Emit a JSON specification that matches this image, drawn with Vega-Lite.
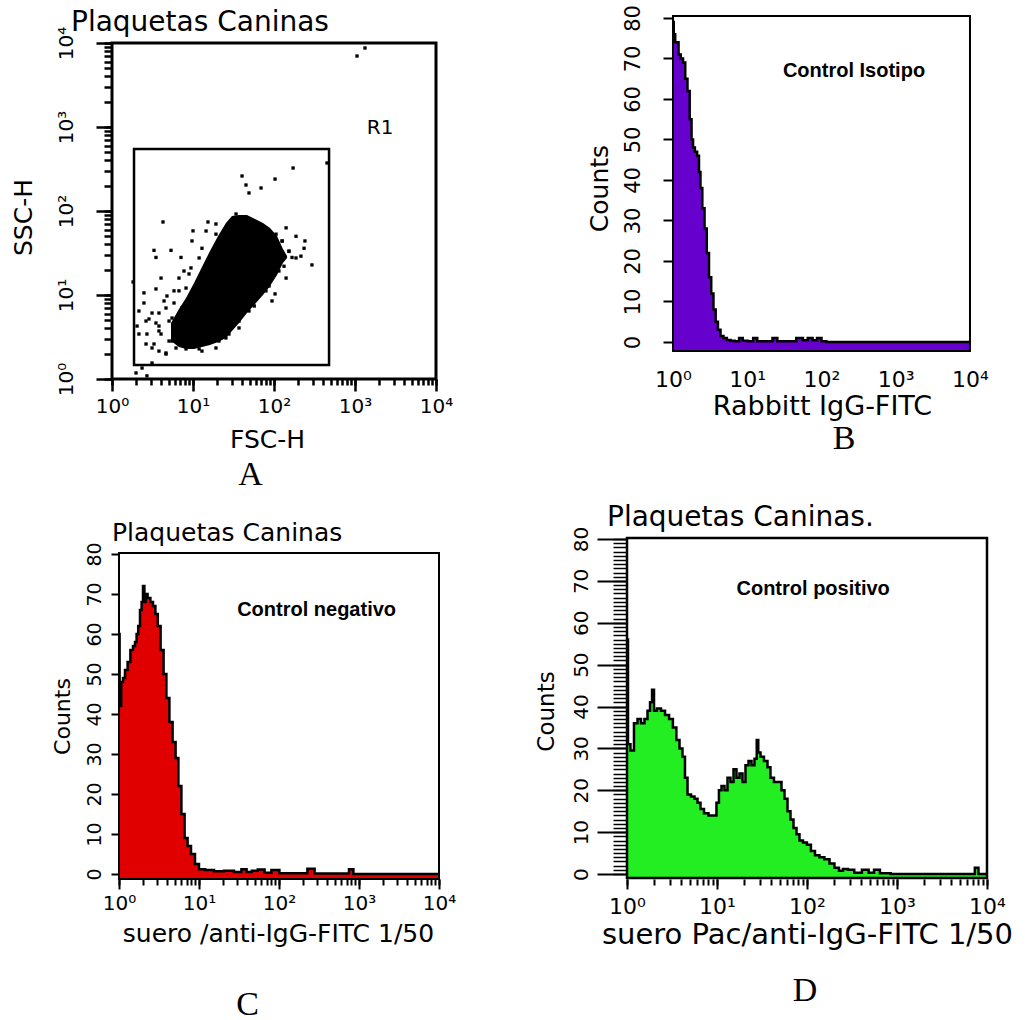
{
  "$schema": "https://vega.github.io/schema/vega-lite/v6.json",
  "background": "white",
  "padding": {"left": 11, "top": 4, "right": 0, "bottom": 0},
  "columns": 2,
  "align": "each",
  "bounds": "flush",
  "spacing": {"row": 159, "column": 188},
  "config": {
    "view": {"stroke": null},
    "axis": {"labelColor": "black", "titleColor": "black", "tickColor": "black", "domain": false, "grid": false, "labelFont": "DejaVu Sans", "titleFont": "DejaVu Sans", "titleFontWeight": "normal", "labelFlush": false, "labelOverlap": false, "tickWidth": 2},
    "title": {"font": "Liberation Serif", "fontSize": 34, "fontWeight": "normal", "color": "black"}
  },
  "datasets": {
    "frame": [{"part": "plot frame"}],
    "scatter_core": [
      {"fsc": 5.35, "ssc_hi": 4.64, "ssc_lo": 2.83},
      {"fsc": 6.71, "ssc_hi": 6.81, "ssc_lo": 2.40},
      {"fsc": 8.20, "ssc_hi": 9.21, "ssc_lo": 2.28},
      {"fsc": 10.3, "ssc_hi": 13.9, "ssc_lo": 2.28},
      {"fsc": 12.9, "ssc_hi": 21.5, "ssc_lo": 2.40},
      {"fsc": 16.2, "ssc_hi": 33.4, "ssc_lo": 2.54},
      {"fsc": 20.4, "ssc_hi": 50.4, "ssc_lo": 2.76},
      {"fsc": 25.5, "ssc_hi": 72.0, "ssc_lo": 3.08},
      {"fsc": 30.3, "ssc_hi": 87.1, "ssc_lo": 3.73},
      {"fsc": 37.0, "ssc_hi": 89.6, "ssc_lo": 4.64},
      {"fsc": 46.4, "ssc_hi": 89.6, "ssc_lo": 6.10},
      {"fsc": 58.3, "ssc_hi": 80.4, "ssc_lo": 7.81},
      {"fsc": 73.1, "ssc_hi": 72.0, "ssc_lo": 10.0},
      {"fsc": 89.3, "ssc_hi": 62.8, "ssc_lo": 12.8},
      {"fsc": 109, "ssc_hi": 50.4, "ssc_lo": 17.3},
      {"fsc": 129, "ssc_hi": 35.3, "ssc_lo": 24.0},
      {"fsc": 145, "ssc_hi": 29.1, "ssc_lo": 27.6}
    ],
    "scatter_events": [
      {"fsc": 1328, "ssc": 8720}, {"fsc": 1059, "ssc": 7000}, {"fsc": 451, "ssc": 373}, {"fsc": 172, "ssc": 325},
      {"fsc": 40.3, "ssc": 261}, {"fsc": 103, "ssc": 240}, {"fsc": 45.1, "ssc": 204}, {"fsc": 69.2, "ssc": 188},
      {"fsc": 49.1, "ssc": 164}, {"fsc": 4.26, "ssc": 74}, {"fsc": 15.3, "ssc": 74}, {"fsc": 10.0, "ssc": 58},
      {"fsc": 3.30, "ssc": 34}, {"fsc": 5.35, "ssc": 34}, {"fsc": 3.49, "ssc": 28}, {"fsc": 9.72, "ssc": 44},
      {"fsc": 7.11, "ssc": 28}, {"fsc": 141, "ssc": 63}, {"fsc": 187, "ssc": 50}, {"fsc": 241, "ssc": 44},
      {"fsc": 235, "ssc": 36}, {"fsc": 215, "ssc": 29}, {"fsc": 294, "ssc": 22.8}, {"fsc": 167, "ssc": 28},
      {"fsc": 103, "ssc": 10.3}, {"fsc": 4.03, "ssc": 15.9}, {"fsc": 1.82, "ssc": 14.3}, {"fsc": 3.49, "ssc": 11.8},
      {"fsc": 2.48, "ssc": 10.6}, {"fsc": 2.48, "ssc": 8.03}, {"fsc": 3.12, "ssc": 6.1}, {"fsc": 2.15, "ssc": 6.45},
      {"fsc": 2.63, "ssc": 4.9}, {"fsc": 3.49, "ssc": 4.64}, {"fsc": 2.04, "ssc": 4.27}, {"fsc": 2.15, "ssc": 3.43},
      {"fsc": 2.70, "ssc": 3.43}, {"fsc": 2.63, "ssc": 2.61}, {"fsc": 3.30, "ssc": 2.61}, {"fsc": 3.80, "ssc": 2.15},
      {"fsc": 4.64, "ssc": 2.04}, {"fsc": 1.98, "ssc": 1.18}, {"fsc": 2.35, "ssc": 1.35}, {"fsc": 2.70, "ssc": 1.09},
      {"fsc": 3.12, "ssc": 1.55}, {"fsc": 4.03, "ssc": 3.43}, {"fsc": 5.51, "ssc": 2.83}, {"fsc": 8.20, "ssc": 2.28},
      {"fsc": 11.9, "ssc": 2.28}, {"fsc": 14.9, "ssc": 2.68}, {"fsc": 4.77, "ssc": 9.73}, {"fsc": 5.83, "ssc": 8.03},
      {"fsc": 4.64, "ssc": 7.0}, {"fsc": 8.20, "ssc": 12.1}, {"fsc": 6.71, "ssc": 15.9}, {"fsc": 9.44, "ssc": 21},
      {"fsc": 11.9, "ssc": 27.6}, {"fsc": 12.9, "ssc": 36}, {"fsc": 19.2, "ssc": 53}, {"fsc": 27.8, "ssc": 3.43},
      {"fsc": 22.2, "ssc": 3.73}, {"fsc": 37.0, "ssc": 76}, {"fsc": 53.5, "ssc": 72}, {"fsc": 79.6, "ssc": 58},
      {"fsc": 106, "ssc": 53}, {"fsc": 126, "ssc": 44}, {"fsc": 3.80, "ssc": 6.1}, {"fsc": 5.06, "ssc": 4.9},
      {"fsc": 5.83, "ssc": 3.73}, {"fsc": 7.11, "ssc": 2.83}, {"fsc": 153, "ssc": 33}, {"fsc": 133, "ssc": 22},
      {"fsc": 87, "ssc": 12.8}, {"fsc": 57, "ssc": 7.4}, {"fsc": 37, "ssc": 4.9}, {"fsc": 20.9, "ssc": 2.83},
      {"fsc": 5.83, "ssc": 11.2}, {"fsc": 7.74, "ssc": 19.3}, {"fsc": 4.39, "ssc": 8.49}, {"fsc": 3.80, "ssc": 4.27},
      {"fsc": 2.86, "ssc": 5.18},
      {"fsc": 6.71, "ssc": 11.2}, {"fsc": 8.93, "ssc": 17.8}, {"fsc": 7.31, "ssc": 7.0}, {"fsc": 5.51, "ssc": 5.32},
      {"fsc": 3.80, "ssc": 3.73}, {"fsc": 5.06, "ssc": 2.83}, {"fsc": 3.12, "ssc": 2.34}, {"fsc": 4.64, "ssc": 1.98},
      {"fsc": 6.17, "ssc": 2.34}, {"fsc": 14.5, "ssc": 57.8}, {"fsc": 19.2, "ssc": 70.0}, {"fsc": 34.0, "ssc": 92.1},
      {"fsc": 40.3, "ssc": 82.5}, {"fsc": 65.3, "ssc": 70.0}, {"fsc": 94.5, "ssc": 53.2}, {"fsc": 126, "ssc": 43.9},
      {"fsc": 153, "ssc": 33.4}, {"fsc": 187, "ssc": 27.6}, {"fsc": 115, "ssc": 19.3}, {"fsc": 141, "ssc": 15.9},
      {"fsc": 79.6, "ssc": 11.2}, {"fsc": 94.5, "ssc": 8.49}, {"fsc": 49.1, "ssc": 6.45}, {"fsc": 37.0, "ssc": 4.05},
      {"fsc": 25.5, "ssc": 3.08}, {"fsc": 19.2, "ssc": 2.34}, {"fsc": 12.9, "ssc": 2.15}
    ],
    "gates": [{"gate": "R1", "fsc_min": 1.87, "fsc_max": 478, "ssc_min": 1.47, "ssc_max": 547}],
    "hist_B": [
      {"fitc": 1.0, "count": 79}, {"fitc": 1.047, "count": 76}, {"fitc": 1.096, "count": 74}, {"fitc": 1.148, "count": 74},
      {"fitc": 1.23, "count": 71}, {"fitc": 1.318, "count": 70}, {"fitc": 1.413, "count": 69}, {"fitc": 1.514, "count": 65},
      {"fitc": 1.622, "count": 62}, {"fitc": 1.738, "count": 55}, {"fitc": 1.82, "count": 50}, {"fitc": 1.905, "count": 48},
      {"fitc": 2.042, "count": 47}, {"fitc": 2.188, "count": 46}, {"fitc": 2.291, "count": 42}, {"fitc": 2.399, "count": 38},
      {"fitc": 2.57, "count": 33}, {"fitc": 2.754, "count": 28}, {"fitc": 2.951, "count": 22}, {"fitc": 3.162, "count": 16},
      {"fitc": 3.388, "count": 12}, {"fitc": 3.631, "count": 8}, {"fitc": 3.89, "count": 5}, {"fitc": 4.169, "count": 3},
      {"fitc": 4.571, "count": 1.5}, {"fitc": 5.012, "count": 1}, {"fitc": 5.623, "count": 0.5}, {"fitc": 6.31, "count": 0.3},
      {"fitc": 7.244, "count": 0.2}, {"fitc": 8.318, "count": 1}, {"fitc": 9.12, "count": 0.3}, {"fitc": 11.22, "count": 0.2},
      {"fitc": 12.88, "count": 1}, {"fitc": 14.45, "count": 0.2}, {"fitc": 19.95, "count": 0.2}, {"fitc": 23.99, "count": 1},
      {"fitc": 26.92, "count": 0.2}, {"fitc": 39.81, "count": 0.2}, {"fitc": 52.48, "count": 1}, {"fitc": 60.26, "count": 0.4},
      {"fitc": 70.79, "count": 1}, {"fitc": 81.28, "count": 0.4}, {"fitc": 93.33, "count": 1}, {"fitc": 107.2, "count": 0.2},
      {"fitc": 125.9, "count": 0}, {"fitc": 10000, "count": 0}
    ],
    "hist_C": [
      {"fitc": 1.0, "count": 60}, {"fitc": 1.035, "count": 42}, {"fitc": 1.096, "count": 48}, {"fitc": 1.148, "count": 49},
      {"fitc": 1.23, "count": 51}, {"fitc": 1.334, "count": 53}, {"fitc": 1.445, "count": 56}, {"fitc": 1.549, "count": 57},
      {"fitc": 1.622, "count": 58}, {"fitc": 1.698, "count": 60}, {"fitc": 1.778, "count": 62}, {"fitc": 1.884, "count": 66},
      {"fitc": 1.95, "count": 68}, {"fitc": 2.042, "count": 72}, {"fitc": 2.113, "count": 68}, {"fitc": 2.188, "count": 70},
      {"fitc": 2.371, "count": 69}, {"fitc": 2.57, "count": 68}, {"fitc": 2.754, "count": 67}, {"fitc": 2.951, "count": 65},
      {"fitc": 3.162, "count": 62}, {"fitc": 3.467, "count": 56}, {"fitc": 3.758, "count": 50}, {"fitc": 4.074, "count": 44},
      {"fitc": 4.467, "count": 38}, {"fitc": 4.898, "count": 33}, {"fitc": 5.309, "count": 29}, {"fitc": 5.754, "count": 22},
      {"fitc": 6.31, "count": 15}, {"fitc": 6.918, "count": 9}, {"fitc": 7.499, "count": 7}, {"fitc": 8.414, "count": 5},
      {"fitc": 9.441, "count": 2.5}, {"fitc": 10.59, "count": 1.2}, {"fitc": 13.34, "count": 1}, {"fitc": 17.78, "count": 0.7},
      {"fitc": 23.71, "count": 0.8}, {"fitc": 31.62, "count": 0.5}, {"fitc": 36.31, "count": 1.2}, {"fitc": 42.66, "count": 0.5},
      {"fitc": 48.98, "count": 0.8}, {"fitc": 60.26, "count": 1.1}, {"fitc": 72.44, "count": 0.3}, {"fitc": 89.13, "count": 1},
      {"fitc": 114.8, "count": 0.2}, {"fitc": 199.5, "count": 0.2}, {"fitc": 257.0, "count": 1.3}, {"fitc": 302.0, "count": 0.1},
      {"fitc": 707.9, "count": 0.1}, {"fitc": 794.3, "count": 1.2}, {"fitc": 912.0, "count": 0}, {"fitc": 10000, "count": 0}
    ],
    "hist_D": [
      {"fitc": 1.0, "count": 56}, {"fitc": 1.052, "count": 31}, {"fitc": 1.135, "count": 29.5}, {"fitc": 1.259, "count": 36},
      {"fitc": 1.358, "count": 37}, {"fitc": 1.507, "count": 36}, {"fitc": 1.622, "count": 37}, {"fitc": 1.758, "count": 39},
      {"fitc": 1.849, "count": 41}, {"fitc": 1.95, "count": 44}, {"fitc": 2.042, "count": 39}, {"fitc": 2.265, "count": 39.5},
      {"fitc": 2.512, "count": 39}, {"fitc": 2.786, "count": 38}, {"fitc": 3.09, "count": 37}, {"fitc": 3.388, "count": 35},
      {"fitc": 3.69, "count": 32}, {"fitc": 3.981, "count": 30}, {"fitc": 4.295, "count": 28}, {"fitc": 4.519, "count": 23},
      {"fitc": 4.898, "count": 19}, {"fitc": 5.408, "count": 18.5}, {"fitc": 5.848, "count": 18}, {"fitc": 6.31, "count": 17},
      {"fitc": 6.808, "count": 15.5}, {"fitc": 7.551, "count": 14.5}, {"fitc": 8.57, "count": 14}, {"fitc": 9.506, "count": 14},
      {"fitc": 10.23, "count": 17}, {"fitc": 10.79, "count": 20}, {"fitc": 11.67, "count": 21}, {"fitc": 12.59, "count": 20},
      {"fitc": 13.58, "count": 23}, {"fitc": 14.69, "count": 22}, {"fitc": 15.85, "count": 25}, {"fitc": 17.1, "count": 23},
      {"fitc": 18.49, "count": 24}, {"fitc": 19.95, "count": 22}, {"fitc": 21.53, "count": 26}, {"fitc": 23.28, "count": 27},
      {"fitc": 25.12, "count": 26}, {"fitc": 27.1, "count": 27.5}, {"fitc": 28.18, "count": 32}, {"fitc": 29.31, "count": 29},
      {"fitc": 31.62, "count": 28}, {"fitc": 34.99, "count": 27}, {"fitc": 37.84, "count": 25.5}, {"fitc": 40.74, "count": 23},
      {"fitc": 45.29, "count": 22}, {"fitc": 50.12, "count": 22}, {"fitc": 54.08, "count": 20}, {"fitc": 58.48, "count": 18},
      {"fitc": 63.1, "count": 15}, {"fitc": 68.08, "count": 13}, {"fitc": 73.62, "count": 11}, {"fitc": 79.43, "count": 9.5},
      {"fitc": 85.7, "count": 8}, {"fitc": 95.06, "count": 7.5}, {"fitc": 104.7, "count": 7}, {"fitc": 116.7, "count": 5.5},
      {"fitc": 128.8, "count": 4.5}, {"fitc": 146.9, "count": 4}, {"fitc": 166.0, "count": 3.5}, {"fitc": 190.5, "count": 2.5},
      {"fitc": 213.8, "count": 1.5}, {"fitc": 239.9, "count": 0.8}, {"fitc": 263.0, "count": 1.2}, {"fitc": 309.0, "count": 1},
      {"fitc": 363.1, "count": 0.3}, {"fitc": 457.1, "count": 1}, {"fitc": 512.9, "count": 0.3}, {"fitc": 602.6, "count": 1},
      {"fitc": 691.8, "count": 0.2}, {"fitc": 1047, "count": 0}, {"fitc": 7079, "count": 0}, {"fitc": 7586, "count": 1.5},
      {"fitc": 8511, "count": 0}, {"fitc": 10000, "count": 0}
    ]
  },
  "concat": [
    {
      "width": 327, "height": 363,
      "title": {"text": "A", "orient": "bottom", "anchor": "middle", "frame": "group", "dx": -25, "offset": 6},
      "resolve": {"axis": {"x": "independent", "y": "independent"}},
      "layer": [
        {
          "data": {"name": "scatter_core"},
          "mark": {"type": "area", "color": "black", "interpolate": "linear", "opacity": 1},
          "encoding": {
            "x": {"field": "fsc", "type": "quantitative", "scale": {"type": "log", "domain": [1, 10890], "nice": false},
              "axis": {"orient": "bottom", "title": "FSC-H", "values": [1,10,100,1000,10000], "labelOverlap": false,
                "labelExpr": "datum.value == 1 ? '10⁰' : datum.value == 10 ? '10¹' : datum.value == 100 ? '10²' : datum.value == 1000 ? '10³' : '10⁴'",
                "labelFontSize": 20, "labelAlign": "center", "labelBaseline": "middle", "labelPadding": 15, "tickSize": 12,
                "tickWidth": 2.5, "titleFontSize": 25, "titleX": 155, "titleY": 60, "titleBaseline": "middle"}},
            "y": {"field": "ssc_hi", "type": "quantitative", "scale": {"type": "log", "domain": [1, 20960], "nice": false},
              "axis": {"orient": "left", "title": "SSC-H", "values": [1,10,100,1000,10000], "labelOverlap": false,
                "labelExpr": "datum.value == 1 ? '10⁰' : datum.value == 10 ? '10¹' : datum.value == 100 ? '10²' : datum.value == 1000 ? '10³' : '10⁴'",
                "labelFontSize": 20, "labelAngle": 270, "labelAlign": "center", "labelBaseline": "middle", "labelPadding": 30, "tickSize": 16,
                "tickWidth": 2.5, "titleFontSize": 25, "titleAngle": 270, "titleX": -89, "titleY": 201, "titleBaseline": "middle"}},
            "y2": {"field": "ssc_lo"}
          }
        },
        {
          "data": {"name": "frame"},
          "mark": {"type": "rect", "fillOpacity": 0, "stroke": "black", "strokeWidth": 3},
          "encoding": {
            "x": {"datum": 1, "axis": {"orient": "bottom", "title": null, "labels": false, "tickSize": 6, "tickWidth": 2.5,
              "values": [1,2,3,4,5,6,7,8,9,10,20,30,40,50,60,70,80,90,100,200,300,400,500,600,700,800,900,1000,2000,3000,4000,5000,6000,7000,8000,9000,10000]}},
            "x2": {"datum": 10000},
            "y": {"datum": 1, "axis": {"orient": "left", "title": null, "labels": false, "tickSize": 8, "tickWidth": 2.5,
              "values": [1,2,3,4,5,6,7,8,9,10,20,30,40,50,60,70,80,90,100,200,300,400,500,600,700,800,900,1000,2000,3000,4000,5000,6000,7000,8000,9000,10000]}},
            "y2": {"datum": 10000}
          }
        },
        {
          "data": {"name": "scatter_events"},
          "mark": {"type": "point", "shape": "square", "filled": true, "color": "black", "size": 11, "opacity": 1},
          "encoding": {
            "x": {"field": "fsc", "type": "quantitative", "axis": null},
            "y": {"field": "ssc", "type": "quantitative", "axis": null}
          }
        },
        {
          "data": {"name": "gates"},
          "mark": {"type": "rect", "fillOpacity": 0, "stroke": "black", "strokeWidth": 2.5},
          "encoding": {
            "x": {"field": "fsc_min", "type": "quantitative", "axis": null},
            "x2": {"field": "fsc_max"},
            "y": {"field": "ssc_min", "type": "quantitative", "axis": null},
            "y2": {"field": "ssc_max"}
          }
        },
        {
          "data": {"name": "gates"},
          "mark": {"type": "text", "font": "DejaVu Sans", "fontSize": 20, "align": "left", "baseline": "middle", "color": "black"},
          "encoding": {
            "x": {"datum": 1400, "axis": null},
            "y": {"datum": 970, "axis": null},
            "text": {"field": "gate"}
          }
        },
        {
          "data": {"values": [{"heading": "Plaquetas Caninas"}]},
          "mark": {"type": "text", "font": "DejaVu Sans", "fontSize": 28, "align": "left", "baseline": "alphabetic", "dx": -41, "dy": -12, "color": "black"},
          "encoding": {
            "x": {"datum": 1, "axis": null},
            "y": {"datum": 10000, "axis": null},
            "text": {"field": "heading"}
          }
        }
      ]
    },
    {
      "width": 360, "height": 363,
      "title": {"text": "B", "orient": "bottom", "anchor": "middle", "frame": "group", "dx": 37, "offset": 3},
      "layer": [
        {
          "data": {"name": "hist_B"},
          "mark": {"type": "area", "interpolate": "step", "color": "#6600cc", "opacity": 1, "line": {"color": "black", "strokeWidth": 2.5}},
          "encoding": {
            "x": {"field": "fitc", "type": "quantitative", "scale": {"type": "log", "domain": [0.2402, 16950], "nice": false},
              "axis": {"title": "Rabbitt IgG-FITC", "values": [1,10,100,1000,10000], "offset": -28, "labelOverlap": false,
                "labelExpr": "datum.value == 1 ? '10⁰' : datum.value == 10 ? '10¹' : datum.value == 100 ? '10²' : datum.value == 1000 ? '10³' : '10⁴'",
                "labelFontSize": 22, "labelAlign": "center", "labelBaseline": "middle", "ticks": false, "tickSize": 0, "labelPadding": 28,
                "titleFontSize": 27, "titleX": 195, "titleY": 55, "titleBaseline": "middle"}},
            "y": {"field": "count", "type": "quantitative", "scale": {"domain": [-9.14, 80.49], "nice": false, "zero": false},
              "axis": {"title": "Counts", "values": [0,10,20,30,40,50,60,70,80], "offset": -46, "labelOverlap": false,
                "labelFontSize": 21, "labelAngle": 270, "labelAlign": "center", "labelBaseline": "middle", "tickSize": 10, "labelPadding": 30,
                "titleFontSize": 25, "titleAngle": 270, "titleX": -74, "titleY": 172, "titleBaseline": "middle"}},
            "y2": {"datum": -2.2}
          }
        },
        {
          "data": {"name": "frame"},
          "mark": {"type": "rect", "fillOpacity": 0, "stroke": "black", "strokeWidth": 2},
          "encoding": {
            "x": {"datum": 1}, "x2": {"datum": 10000},
            "y": {"datum": -2.2}, "y2": {"datum": 80.49}
          }
        },
        {
          "data": {"values": [{"note": "Control Isotipo"}]},
          "mark": {"type": "text", "font": "Liberation Sans", "fontWeight": "bold", "fontSize": 20, "color": "black"},
          "encoding": {
            "x": {"datum": 274},
            "y": {"datum": 67},
            "text": {"field": "note"}
          }
        }
      ]
    },
    {
      "width": 327, "height": 341,
      "title": {"text": "C", "orient": "bottom", "anchor": "middle", "frame": "group", "dx": -28, "offset": 42},
      "resolve": {"axis": {"x": "independent", "y": "independent"}},
      "layer": [
        {
          "data": {"name": "hist_C"},
          "mark": {"type": "area", "interpolate": "step", "color": "#e00000", "opacity": 1, "line": {"color": "black", "strokeWidth": 2.5}},
          "encoding": {
            "x": {"field": "fitc", "type": "quantitative", "scale": {"type": "log", "domain": [0.8176, 10000], "nice": false},
              "axis": {"orient": "bottom", "title": "suero /anti-IgG-FITC 1/50", "values": [1,10,100,1000,10000], "labelOverlap": false,
                "labelExpr": "datum.value == 1 ? '10⁰' : datum.value == 10 ? '10¹' : datum.value == 100 ? '10²' : datum.value == 1000 ? '10³' : '10⁴'",
                "labelFontSize": 20, "labelAlign": "center", "labelBaseline": "middle", "labelPadding": 14, "tickSize": 10,
                "titleFontSize": 25, "titleX": 166, "titleY": 54, "titleBaseline": "middle"}},
            "y": {"field": "count", "type": "quantitative", "scale": {"domain": [-1.25, 84], "nice": false, "zero": false},
              "axis": {"orient": "left", "title": "Counts", "values": [0,10,20,30,40,50,60,70,80], "offset": -7, "labelOverlap": false,
                "labelFontSize": 19, "labelAngle": 270, "labelAlign": "center", "labelBaseline": "middle", "tickSize": 8, "labelPadding": 17,
                "titleFontSize": 22, "titleAngle": 270, "titleX": -57, "titleY": 178, "titleBaseline": "middle"}},
            "y2": {"datum": -1.25}
          }
        },
        {
          "data": {"name": "frame"},
          "mark": {"type": "rect", "fillOpacity": 0, "stroke": "black", "strokeWidth": 2},
          "encoding": {
            "x": {"datum": 1, "axis": {"orient": "bottom", "title": null, "labels": false, "tickSize": 6,
              "values": [1,2,3,4,5,6,7,8,9,10,20,30,40,50,60,70,80,90,100,200,300,400,500,600,700,800,900,1000,2000,3000,4000,5000,6000,7000,8000,9000,10000]}},
            "x2": {"datum": 10000},
            "y": {"datum": -1.25, "axis": null}, "y2": {"datum": 80.25}
          }
        },
        {
          "data": {"values": [{"note": "Control negativo"}]},
          "mark": {"type": "text", "font": "Liberation Sans", "fontWeight": "bold", "fontSize": 20, "color": "black"},
          "encoding": {
            "x": {"datum": 295, "axis": null},
            "y": {"datum": 66, "axis": null},
            "text": {"field": "note"}
          }
        },
        {
          "data": {"values": [{"heading": "Plaquetas Caninas"}]},
          "mark": {"type": "text", "font": "DejaVu Sans", "fontSize": 25, "align": "left", "baseline": "alphabetic", "dx": -7, "dy": -12, "color": "black"},
          "encoding": {
            "x": {"datum": 1, "axis": null},
            "y": {"datum": 80.25, "axis": null},
            "text": {"field": "heading"}
          }
        }
      ]
    },
    {
      "width": 360, "height": 341,
      "title": {"text": "D", "orient": "bottom", "anchor": "middle", "frame": "group", "dx": -2, "offset": 25},
      "resolve": {"axis": {"x": "independent", "y": "independent"}},
      "layer": [
        {
          "data": {"name": "hist_D"},
          "mark": {"type": "area", "interpolate": "step", "color": "#22ee22", "opacity": 1, "line": {"color": "black", "strokeWidth": 2.5}},
          "encoding": {
            "x": {"field": "fitc", "type": "quantitative", "scale": {"type": "log", "domain": [1, 10000], "nice": false},
              "axis": {"orient": "bottom", "title": "suero Pac/anti-IgG-FITC 1/50", "values": [1,10,100,1000,10000], "labelOverlap": false,
                "labelExpr": "datum.value == 1 ? '10⁰' : datum.value == 10 ? '10¹' : datum.value == 100 ? '10²' : datum.value == 1000 ? '10³' : '10⁴'",
                "labelFontSize": 22, "labelAlign": "center", "labelBaseline": "middle", "labelPadding": 17, "tickSize": 10,
                "titleFontSize": 29, "titleY": 55, "titleBaseline": "middle"}},
            "y": {"field": "count", "type": "quantitative", "scale": {"domain": [-1.19, 80.24], "nice": false, "zero": false},
              "axis": {"orient": "left", "title": "Counts", "values": [0,10,20,30,40,50,60,70,80], "labelOverlap": false,
                "labelFontSize": 20, "labelAngle": 270, "labelAlign": "center", "labelBaseline": "middle", "labelPadding": 16, "tickSize": 30,
                "titleFontSize": 23, "titleAngle": 270, "titleX": -81, "titleY": 173, "titleBaseline": "middle"}},
            "y2": {"datum": -0.95}
          }
        },
        {
          "data": {"name": "frame"},
          "mark": {"type": "rect", "fillOpacity": 0, "stroke": "black", "strokeWidth": 2.5},
          "encoding": {
            "x": {"datum": 1, "axis": {"orient": "bottom", "title": null, "labels": false, "tickSize": 6,
              "values": [1,2,3,4,5,6,7,8,9,10,20,30,40,50,60,70,80,90,100,200,300,400,500,600,700,800,900,1000,2000,3000,4000,5000,6000,7000,8000,9000,10000]}},
            "x2": {"datum": 10000},
            "y": {"datum": -0.95, "axis": {"orient": "left", "title": null, "labels": false, "tickSize": 14, "tickWidth": 1.5,
              "values": [0,1,2,3,4,5,6,7,8,9,10,11,12,13,14,15,16,17,18,19,20,21,22,23,24,25,26,27,28,29,30,31,32,33,34,35,36,37,38,39,40,41,42,43,44,45,46,47,48,49,50,51,52,53,54,55,56,57,58,59,60,61,62,63,64,65,66,67,68,69,70,71,72,73,74,75,76,77,78,79,80]}},
            "y2": {"datum": 80.24}
          }
        },
        {
          "data": {"values": [{"note": "Control positivo"}]},
          "mark": {"type": "text", "font": "Liberation Sans", "fontWeight": "bold", "fontSize": 20, "color": "black"},
          "encoding": {
            "x": {"datum": 117, "axis": null},
            "y": {"datum": 68, "axis": null},
            "text": {"field": "note"}
          }
        },
        {
          "data": {"values": [{"heading": "Plaquetas Caninas."}]},
          "mark": {"type": "text", "font": "DejaVu Sans", "fontSize": 28, "align": "left", "baseline": "alphabetic", "dx": -20, "dy": -12, "color": "black"},
          "encoding": {
            "x": {"datum": 1, "axis": null},
            "y": {"datum": 80.24, "axis": null},
            "text": {"field": "heading"}
          }
        }
      ]
    }
  ]
}
